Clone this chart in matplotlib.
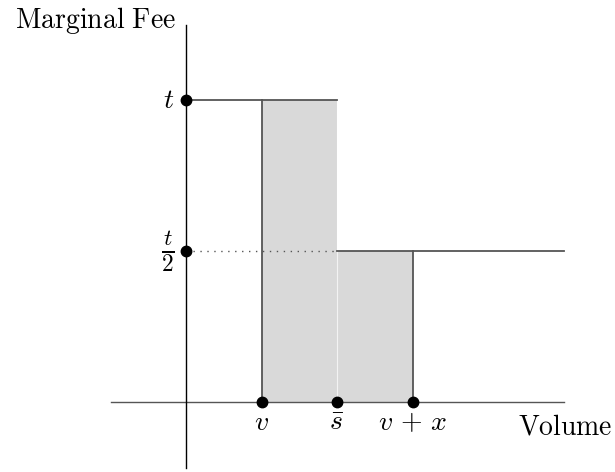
import matplotlib.pyplot as plt

plt.rcParams["mathtext.fontset"] = "cm"

# fee schedule: full fee t up to s_bar, half fee after
v, s_bar, v_plus_x = 1.0, 2.0, 3.0
t = 4.0
x_ticks = [v, s_bar, v_plus_x]
x_labels = [r"$v$", r"$\bar{s}$", r"$v\,+\,x$"]
y_ticks = [t, t / 2]
y_labels = [r"$t$", r"$\frac{t}{2}$"]
y_sizes = [20, 24]

fig = plt.figure(figsize=(6.15, 4.72), dpi=100)
ax = fig.add_axes([0, 0, 1, 1])
ax.set_xlim(-2.464, 5.682)
ax.set_ylim(-0.927, 5.325)
ax.axis("off")

gray = "#555555"
fill = "#d9d9d9"

# shaded area under the fee between v and v+x
ax.fill_between([v, s_bar], 0, t, color=fill, lw=0)
ax.fill_between([s_bar, v_plus_x], 0, t / 2, color=fill, lw=0)
ax.plot([s_bar, s_bar], [0, t], color="white", lw=0.8, alpha=0.7)

# axes
ax.plot([-1.0, 5.0], [0, 0], color=gray, lw=1.0)
ax.plot([0, 0], [-0.874, 5.0], color="black", lw=1.0)

# marginal fee steps
ax.plot([0, s_bar], [t, t], color=gray, lw=1.3)
ax.plot([s_bar, 5.0], [t / 2, t / 2], color=gray, lw=1.3)
ax.plot([v, v], [0, t], color=gray, lw=1.3)
ax.plot([v_plus_x, v_plus_x], [0, t / 2], color=gray, lw=1.3)
ax.plot([0, s_bar], [t / 2, t / 2], color=gray, lw=1.0, ls=(0, (1, 4)))

# points on the axes
ax.plot(x_ticks, [0] * 3, "o", color="black", ms=7.5, zorder=5)
ax.plot([0] * 2, y_ticks, "o", color="black", ms=7.5, zorder=5)

for xv, lab in zip(x_ticks, x_labels):
    ax.text(xv, -0.08, lab, ha="center", va="top", fontsize=20)
for yv, lab, fs in zip(y_ticks, y_labels, y_sizes):
    ax.text(-0.15, yv, lab, ha="right", va="center", fontsize=fs)

ax.text(-0.14, 5.06, r"$\mathrm{Marginal\ Fee}$", ha="right", va="center", fontsize=20)
ax.text(4.4, -0.32, r"$\mathrm{Volume}$", ha="left", va="center", fontsize=20)

plt.savefig("out.png", dpi=100)
